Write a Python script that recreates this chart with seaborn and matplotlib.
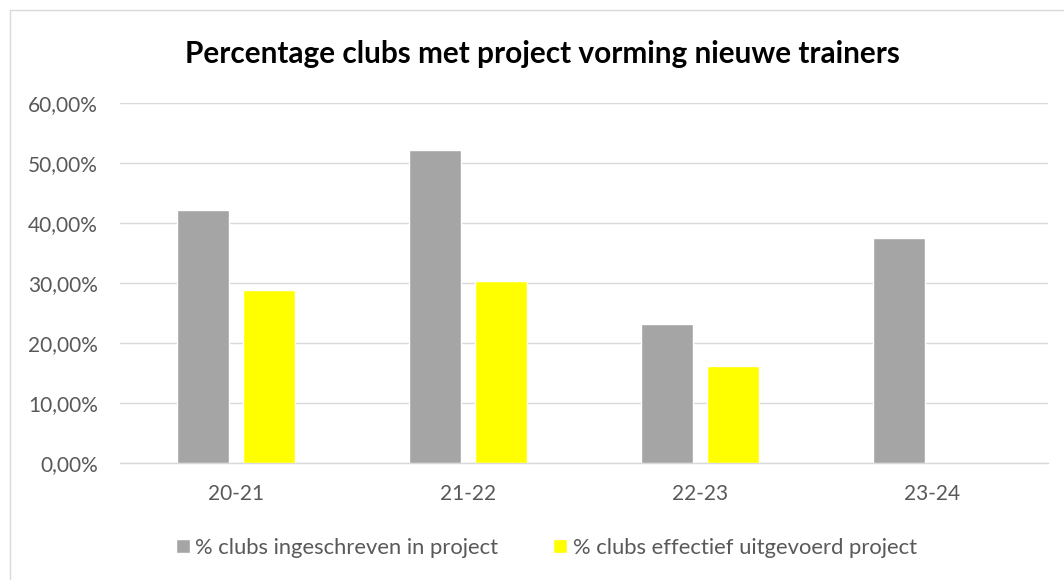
import matplotlib
matplotlib.use("Agg")
import matplotlib.pyplot as plt
from matplotlib.patches import Rectangle
from matplotlib.ticker import FuncFormatter, MultipleLocator
import seaborn as sns
import pandas as pd

# Season labels and the two series (in percent)
seasons = ["20-21", "21-22", "22-23", "23-24"]
ingeschreven = [42.2, 52.2, 23.3, 37.5]
uitgevoerd = [28.9, 30.4, 16.3, None]
series_names = ["% clubs ingeschreven in project", "% clubs effectief uitgevoerd project"]
title = "Percentage clubs met project vorming nieuwe trainers"

df = pd.DataFrame({
    "season": seasons * 2,
    "value": ingeschreven + uitgevoerd,
    "series": [series_names[0]] * len(seasons) + [series_names[1]] * len(seasons),
})

sns.set_theme(style="white")
plt.rcParams["font.family"] = ["Lato", "DejaVu Sans"]

fig = plt.figure(figsize=(10.64, 5.8), dpi=100)
ax = fig.add_axes([120 / 1064, 116.7 / 580, 928 / 1064, 360 / 580])

palette = {series_names[0]: "#a5a5a5", series_names[1]: "#ffff00"}
sns.barplot(data=df, x="season", y="value", hue="series", order=seasons,
            hue_order=series_names, palette=palette, width=0.569, gap=0.213,
            saturation=1, ax=ax, zorder=3, legend=True)

ax.set_ylim(0, 60)
ax.set_xlim(-0.5, 3.5)
ax.yaxis.set_major_locator(MultipleLocator(10))
ax.yaxis.set_major_formatter(FuncFormatter(lambda v, _: f"{v:.2f}".replace(".", ",") + "%"))
ax.grid(axis="y", color="#d9d9d9", linewidth=1.0, zorder=0)
ax.grid(axis="x", visible=False)
for side in ["top", "right", "left"]:
    ax.spines[side].set_visible(False)
ax.spines["bottom"].set_color("#d9d9d9")
ax.spines["bottom"].set_linewidth(1.0)
ax.set_xlabel("")
ax.set_ylabel("")
ax.tick_params(axis="both", length=0, labelsize=15, labelcolor="#595959")
ax.tick_params(axis="y", pad=16)
ax.tick_params(axis="x", pad=15)

# Legend below the plot, centred
handles, labels = ax.get_legend_handles_labels()
ax.legend(handles, labels, loc="center", bbox_to_anchor=(546.5 / 1064, 32 / 580),
          bbox_transform=fig.transFigure, ncol=2, frameon=False, fontsize=15.8,
          labelcolor="#595959", handlelength=0.62, handleheight=0.62,
          handletextpad=0.27, columnspacing=2.5)

fig.text(542.5 / 1064, 1 - 54 / 580, title, ha="center", va="center",
         fontsize=21.4, fontweight="bold", color="#000000")

# Chart area frame
fig.patches.append(Rectangle((10 / 1064, -0.1), 1.2, 1 - 10 / 580 + 0.1,
                             transform=fig.transFigure, fill=False,
                             edgecolor="#d9d9d9", linewidth=1.0))

fig.savefig("out.png", dpi=100)
